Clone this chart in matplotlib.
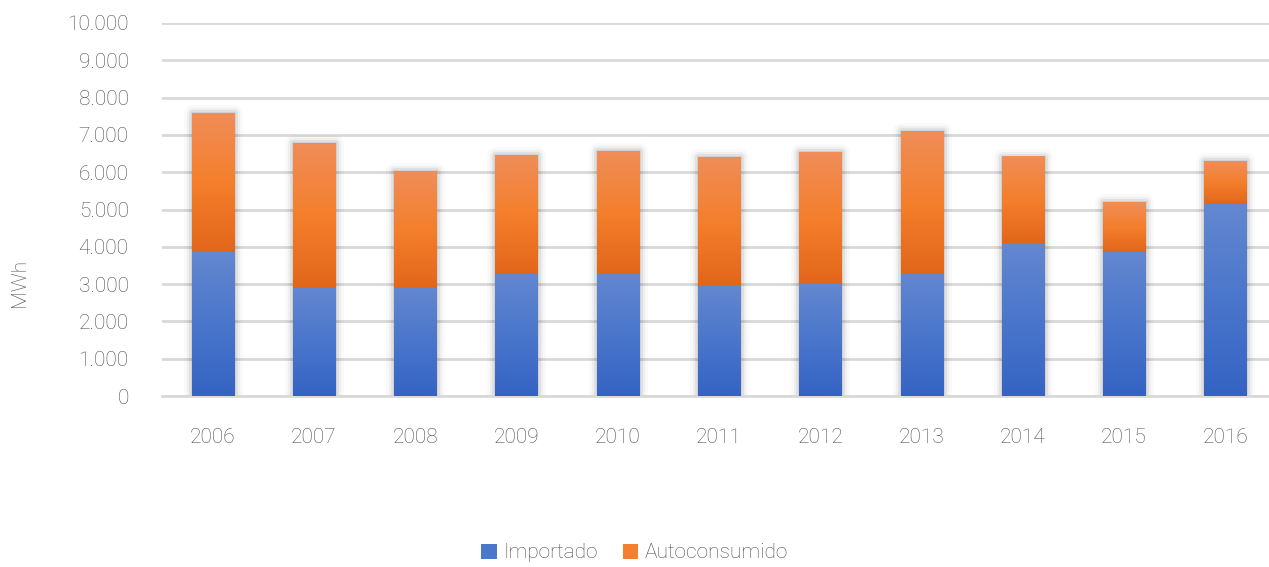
import matplotlib
matplotlib.use("Agg")
import matplotlib.pyplot as plt
import numpy as np
from matplotlib.colors import LinearSegmentedColormap
from matplotlib.patches import Patch, Rectangle
from matplotlib.ticker import FuncFormatter, MultipleLocator

plt.rcParams['font.family'] = ['Roboto', 'DejaVu Sans']
plt.rcParams['font.weight'] = 'light'

years = ['2006', '2007', '2008', '2009', '2010', '2011',
         '2012', '2013', '2014', '2015', '2016']
importado = [3870, 2900, 2900, 3280, 3280, 2980, 3010, 3280, 4100, 3870, 5160]
total = [7590, 6780, 6030, 6460, 6570, 6410, 6540, 7100, 6410, 5200, 6300]
autoconsumido = [t - i for t, i in zip(total, importado)]

text_color = '#4f4f4f'
grid_color = '#d9d9d9'
blue_cmap = LinearSegmentedColormap.from_list('blue', ['#3563c3', '#4a76cb', '#6488d0'])
orange_cmap = LinearSegmentedColormap.from_list('orange', ['#e2661a', '#f47f2c', '#f08d58'])

fig = plt.figure(figsize=(12.69, 5.67), dpi=100)
ax = fig.add_axes([162 / 1269, 171 / 567, 1114 / 1269, 373 / 567])

x = np.arange(len(years))
width = 0.415
grad = np.linspace(0, 1, 256).reshape(-1, 1)


def bar_shadow(xc, height):
    left = xc - width / 2
    for lw, a in [(12, 0.025), (8, 0.04), (5, 0.06), (2, 0.08)]:
        ax.add_patch(Rectangle((left, 0), width, height, facecolor='none',
                               edgecolor='black', linewidth=lw, alpha=a,
                               joinstyle='round', zorder=2))


def gradient_bar(xc, bottom, height, cmap):
    left = xc - width / 2
    ax.imshow(grad, cmap=cmap, origin='lower', aspect='auto', zorder=3,
              extent=(left, left + width, bottom, bottom + height),
              interpolation='bilinear')


for i in x:
    bar_shadow(i, total[i])
    gradient_bar(i, 0, importado[i], blue_cmap)
    gradient_bar(i, importado[i], autoconsumido[i], orange_cmap)

ax.set_xlim(-0.5, len(years) - 0.5)
ax.set_ylim(0, 10000)
ax.yaxis.set_major_locator(MultipleLocator(1000))
ax.yaxis.set_major_formatter(FuncFormatter(lambda v, p: f'{int(v):,}'.replace(',', '.')))
ax.set_xticks(x)
ax.set_xticklabels(years)
ax.grid(axis='y', color=grid_color, linewidth=2)
ax.set_axisbelow(True)
for s in ['top', 'right', 'left']:
    ax.spines[s].set_visible(False)
ax.spines['bottom'].set_color(grid_color)
ax.spines['bottom'].set_linewidth(2)
ax.tick_params(axis='both', length=0, labelsize=15, labelcolor=text_color)
ax.tick_params(axis='x', pad=23)
ax.tick_params(axis='y', pad=24)

fig.text(20 / 1269, 1 - 283 / 567, 'MWh', rotation=90, ha='center', va='center',
         fontsize=15, color=text_color)

handles = [Patch(facecolor='#4a76cb', label='Importado'),
           Patch(facecolor='#f47f2c', label='Autoconsumido')]
fig.legend(handles=handles, loc='center', bbox_to_anchor=(0.5, 1 - 553 / 567),
           ncol=2, frameon=False, fontsize=15, labelcolor=text_color,
           handlelength=0.75, handleheight=0.75, handletextpad=0.3, columnspacing=1.2)

fig.savefig('out.png', dpi=100)
